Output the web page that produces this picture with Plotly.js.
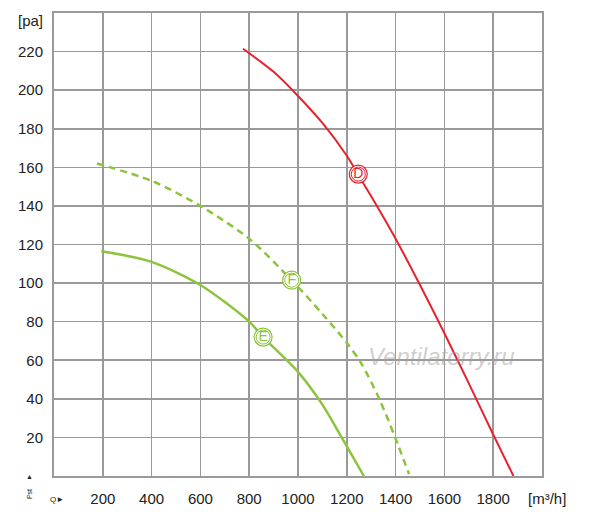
<!DOCTYPE html>
<html>
<head>
<meta charset="utf-8">
<script src="https://cdn.plot.ly/plotly-3.0.1.min.js"></script>
<style>html,body{margin:0;padding:0;background:#fff;}#chart{width:600px;height:516px;}</style>
</head>
<body>
<div id="chart"></div>
<script>
// Curve D (red, solid)
var qD = [775, 900, 1000, 1100, 1200, 1250, 1300, 1400, 1500, 1600, 1700, 1800, 1883];
var pD = [221.5, 209.5, 197, 183, 166, 155.5, 145, 123, 99, 74, 48, 21.5, 0];
// Curve F (green, dashed)
var qF = [176, 400, 600, 800, 974, 1100, 1200, 1261, 1333, 1398, 1455];
var pF = [162, 153, 140, 123, 101.5, 84, 69, 58, 40, 20, 1];
// Curve E (green, solid)
var qE = [194, 400, 600, 800, 857, 1000, 1100, 1179, 1270];
var pE = [116.5, 111, 99, 80, 72, 54, 37, 20, 0];
// Curve labels
var labelText = ["D", "F", "E"];
var labelQ = [1247, 974, 857];
var labelP = [156.5, 101.5, 72];
// Ticks
var xTicks = [200, 400, 600, 800, 1000, 1200, 1400, 1600, 1800];
var yTicks = [20, 40, 60, 80, 100, 120, 140, 160, 180, 200, 220];
var xUnit = "[m³/h]";
var yUnit = "[pa]";

var red = "#e8222c";
var green = "#8cc43c";
var labelColors = [red, green, green];

var traces = [
  {x: qE, y: pE, mode: "lines", line: {color: green, width: 2.5, shape: "spline", smoothing: 0.8}, hoverinfo: "none"},
  {x: qF, y: pF, mode: "lines", line: {color: green, width: 2.5, dash: "7px,5px", shape: "spline", smoothing: 0.8}, hoverinfo: "none"},
  {x: qD, y: pD, mode: "lines", line: {color: red, width: 2, shape: "spline", smoothing: 0.8}, hoverinfo: "none"},
  {x: labelQ, y: labelP, mode: "markers", marker: {symbol: "circle", size: 18, color: "#fff", line: {color: labelColors, width: 1.2}}, hoverinfo: "none"},
  {x: labelQ, y: labelP, mode: "markers+text", text: labelText, textposition: "middle center",
   textfont: {family: "Liberation Sans, Arial, sans-serif", size: 14, color: labelColors},
   marker: {symbol: "circle-open", size: 14, color: labelColors, line: {color: labelColors, width: 1}}, hoverinfo: "none"}
];

var gridColor = "#9a9a9a";
var layout = {
  width: 600, height: 516,
  margin: {l: 54, r: 58, t: 13, b: 40, pad: 0},
  paper_bgcolor: "#fff", plot_bgcolor: "#fff",
  showlegend: false,
  font: {family: "Liberation Sans, Arial, sans-serif", size: 15, color: "#222"},
  xaxis: {
    range: [0, 2000], tickvals: xTicks, ticktext: xTicks.map(String),
    showgrid: true, gridcolor: gridColor, gridwidth: 1.6,
    showline: true, linecolor: gridColor, linewidth: 2, mirror: true,
    zeroline: false, ticks: "", ticklabelstandoff: 8,
    tickfont: {size: 15, color: "#222"}, fixedrange: true
  },
  yaxis: {
    range: [0, 240], tickvals: yTicks, ticktext: yTicks.map(String),
    showgrid: true, gridcolor: gridColor, gridwidth: 1.6,
    showline: true, linecolor: gridColor, linewidth: 2, mirror: true,
    zeroline: false, ticks: "", ticklabelstandoff: 6,
    tickfont: {size: 15, color: "#222"}, fixedrange: true
  },
  annotations: [
    {xref: "paper", yref: "paper", x: 1.01, y: -0.025, xanchor: "center", yanchor: "top",
     text: xUnit, showarrow: false, font: {size: 15, color: "#222"}},
    {xref: "paper", yref: "y", x: -0.018, y: 236, xanchor: "right", yanchor: "middle",
     text: yUnit, showarrow: false, font: {size: 15, color: "#222"}},
    {xref: "paper", yref: "paper", x: 0.795, y: 0.259, xanchor: "center", yanchor: "middle",
     text: "<i>Ventilatorry.ru</i>", showarrow: false,
     font: {family: "Liberation Sans, Arial, sans-serif", size: 24, color: "rgba(160,160,160,0.5)"}},
    {xref: "paper", yref: "paper", x: -0.05, y: 0.0, xanchor: "center", yanchor: "middle",
     text: "▲", showarrow: false, font: {size: 7, color: "#222"}},
    {xref: "paper", yref: "paper", x: -0.05, y: -0.04, xanchor: "center", yanchor: "middle",
     text: "Pst", textangle: -90, showarrow: false, font: {size: 7, color: "#222"}},
    {xref: "paper", yref: "paper", x: -0.013, y: -0.05, xanchor: "left", yanchor: "middle",
     text: "Q►", showarrow: false, font: {size: 8, color: "#222"}}
  ]
};

Plotly.newPlot("chart", traces, layout, {staticPlot: true, displayModeBar: false});
</script>
</body>
</html>
